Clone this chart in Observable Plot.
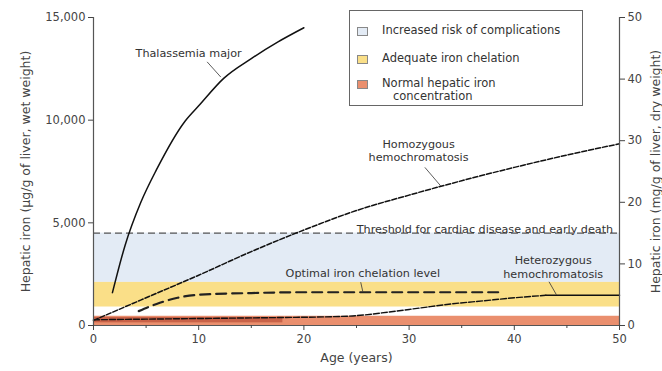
<!DOCTYPE html>
<html><head><meta charset="utf-8">
<script src="https://cdn.jsdelivr.net/npm/d3@7"></script>
<script src="https://cdn.jsdelivr.net/npm/@observablehq/plot@0.6"></script>
<style>
body{margin:0;background:#fff;font-family:"DejaVu Sans",sans-serif;}
#wrap{position:relative;width:662px;height:371px;overflow:hidden;}
#legend{position:absolute;left:349px;top:10px;width:234px;height:96px;border:1px solid #666;background:#fff;font-size:11.5px;color:#333;box-sizing:border-box;}
.row{position:absolute;left:7px;display:flex;align-items:flex-start;}
.sw{width:11px;height:9px;border:1px solid #888;box-sizing:border-box;margin-right:14px;margin-top:3px;}
.row span{line-height:13px;}
</style></head>
<body><div id="wrap"><div id="chart"></div>
<div id="legend"></div></div>
<script>
// ---- data ----
const xDomain = [0, 50];
const yDomain = [0, 15000];
const leftTicks = [0, 5000, 10000, 15000];
const rightTicks = [0, 10, 20, 30, 40, 50];   // mg/g dry weight
const dryToWet = 300;
const xMajor = [0, 10, 20, 30, 40, 50];
const xMinor = [5, 15, 25, 35, 45];

const bandNames = ["Increased risk of complications", "Adequate iron chelation", "Normal hepatic iron concentration"];
const bandLow  = [2100, 900, 0];
const bandHigh = [4500, 2100, 450];
const bandColors = ["#e3ebf5", "#fadf88", "#ea8f6e"];
const darkStrip = [{a0: 0, a1: 18, lo: 130, hi: 390}];

const threshold = 4500;

const thalAge  = [1.8, 3, 4.5, 6, 8.7, 10, 12.4, 15, 17.5, 20];
const thalIron = [1600, 3900, 6000, 7600, 9950, 10700, 12050, 13000, 13800, 14500];

const homoAge  = [0, 5, 10, 15, 20, 25, 30, 35, 40, 45, 50];
const homoIron = [250, 1350, 2450, 3600, 4650, 5600, 6350, 7050, 7700, 8300, 8850];

const optAge  = [4.3, 6, 8, 10, 15, 20, 30, 39];
const optIron = [700, 1050, 1350, 1500, 1580, 1620, 1620, 1620];

const hetAge  = [0, 5, 10, 15, 18, 22, 25, 28, 31, 34, 37, 40, 43];
const hetIron = [280, 310, 340, 370, 390, 420, 480, 650, 850, 1050, 1200, 1350, 1470];
const hetFlatAge = [43, 50];
const hetFlatIron = [1470, 1470];

const labels = [
  {t: "Thalassemia major", a: 4, v: 13285, anchor: "start"},
  {t: "Homozygous\nhemochromatosis", a: 30.9, v: 8530, anchor: "middle"},
  {t: "Threshold for cardiac disease and early death", a: 49.4, v: 4706, anchor: "end"},
  {t: "Optimal iron chelation level", a: 25.6, v: 2550, anchor: "middle"},
  {t: "Heterozygous\nhemochromatosis", a: 43.7, v: 2870, anchor: "middle"}
];
const leaders = [
  {a0: 10.8, v0: 12840, a1: 12.1, v1: 12100},
  {a0: 31.5, v0: 7700, a1: 33, v1: 6800},
  {a0: 25.4, v0: 2110, a1: 25.6, v1: 1650},
  {a0: 43.3, v0: 2130, a1: 44, v1: 1500}
];

// ---- build ----
const zip = (xs, ys) => xs.map((x, i) => ({age: x, iron: ys[i]}));
const bands = bandNames.map((n, i) => ({name: n, lo: bandLow[i], hi: bandHigh[i], color: bandColors[i]}));
const textMark = anchor => Plot.text(labels.filter(d => d.anchor === anchor),
  {x: "a", y: "v", text: "t", textAnchor: anchor, fill: "#333", fontSize: 11.2, lineHeight: 1.2});

const chart = Plot.plot({
  width: 662, height: 371,
  marginLeft: 93, marginRight: 43, marginTop: 17, marginBottom: 46,
  style: {fontFamily: "DejaVu Sans, sans-serif", fontSize: "11px", color: "#444", background: "#fff"},
  x: {domain: xDomain},
  y: {domain: yDomain},
  marks: [
    Plot.rect(bands, {x1: () => xDomain[0], x2: () => xDomain[1], y1: "lo", y2: "hi", fill: "color"}),
    Plot.rect(darkStrip, {x1: "a0", x2: "a1", y1: "lo", y2: "hi", fill: "#c0563f", fillOpacity: 0.8}),
    Plot.ruleY([threshold], {stroke: "#555", strokeWidth: 1.3, strokeDasharray: "7,4"}),
    Plot.line(zip(thalAge, thalIron), {x: "age", y: "iron", curve: "monotone-x", stroke: "#111", strokeWidth: 1.5}),
    Plot.line(zip(homoAge, homoIron), {x: "age", y: "iron", curve: "monotone-x", stroke: "#111", strokeWidth: 1.5, strokeDasharray: "5,2"}),
    Plot.line(zip(optAge, optIron), {x: "age", y: "iron", curve: "monotone-x", stroke: "#222", strokeWidth: 2.2, strokeDasharray: "10,6"}),
    Plot.line(zip(hetAge, hetIron), {x: "age", y: "iron", curve: "monotone-x", stroke: "#111", strokeWidth: 1.4, strokeDasharray: "6,2"}),
    Plot.line(zip(hetFlatAge, hetFlatIron), {x: "age", y: "iron", stroke: "#111", strokeWidth: 1.5}),
    Plot.link(leaders, {x1: "a0", y1: "v0", x2: "a1", y2: "v1", stroke: "#333", strokeWidth: 0.8}),
    textMark("start"), textMark("middle"), textMark("end"),
    Plot.ruleX([xDomain[0]], {stroke: "#555", strokeWidth: 1.2}),
    Plot.ruleX([xDomain[1]], {stroke: "#555", strokeWidth: 1.2}),
    Plot.ruleY([yDomain[0]], {stroke: "#555", strokeWidth: 1}),
    Plot.axisY(leftTicks, {anchor: "left", tickFormat: d3.format(","), tickSize: 5, tickPadding: 3, fontSize: 11.5,
      label: "Hepatic iron (µg/g of liver, wet weight)", labelAnchor: "center", labelArrow: "none", labelOffset: 72}),
    Plot.axisY(rightTicks.map(d => d * dryToWet), {anchor: "right", tickFormat: d => d / dryToWet, tickSize: 5, tickPadding: 3, fontSize: 11.5,
      label: "Hepatic iron (mg/g of liver, dry weight)", labelAnchor: "center", labelArrow: "none", labelOffset: 40}),
    Plot.axisX(xMajor, {anchor: "bottom", tickSize: 5, tickPadding: 4, fontSize: 11.5,
      label: "Age (years)", labelAnchor: "center", labelArrow: "none", labelOffset: 36}),
    Plot.axisX(xMinor, {anchor: "bottom", tickSize: 3, tickFormat: () => "", label: null})
  ]
});
document.getElementById("chart").appendChild(chart);
chart.querySelectorAll('g[aria-label="y-axis label"] text, g[aria-label="x-axis label"] text').forEach(t => t.setAttribute("font-size", "12.5"));

// legend
const lg = document.getElementById("legend");
const rowTops = [13, 41, 66];
const legendText = ["Increased risk of complications", "Adequate iron chelation", "Normal hepatic iron<br>&nbsp;&nbsp;&nbsp;concentration"];
bands.forEach((b, i) => {
  const r = document.createElement("div");
  r.className = "row";
  r.style.top = rowTops[i] + "px";
  r.innerHTML = `<div class="sw" style="background:${b.color}"></div><span>${legendText[i]}</span>`;
  lg.appendChild(r);
});
</script></body></html>
